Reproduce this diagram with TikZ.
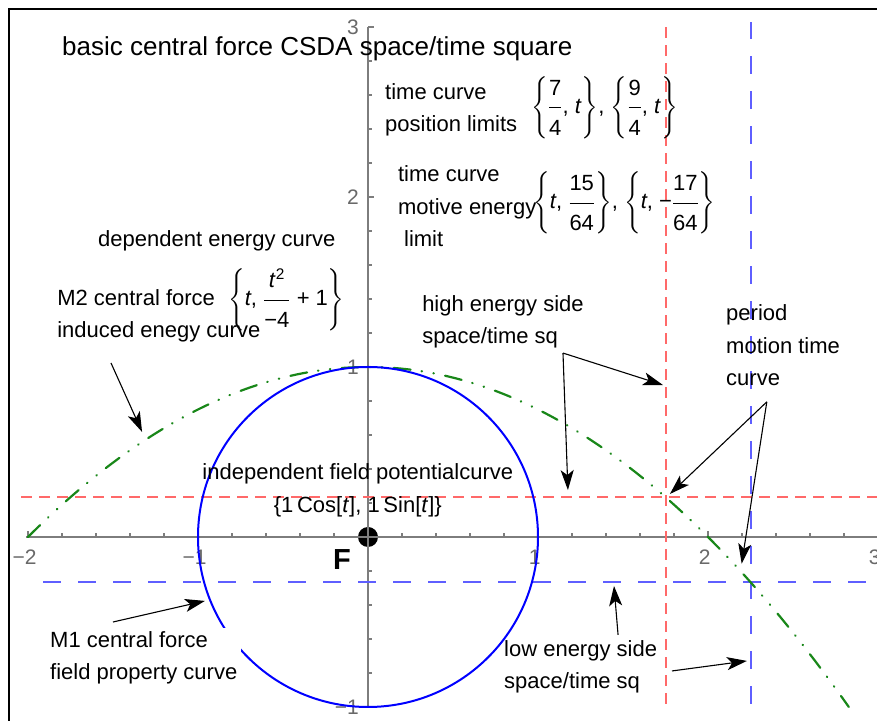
\documentclass[tikz,border=0pt]{standalone}
\usepackage{amsmath}
\usepackage{fontspec}
\setmainfont{Liberation Sans}
\usepackage{tikz}
\usetikzlibrary{positioning,arrows.meta}
\definecolor{circleblue}{RGB}{0,0,255}
\definecolor{energygreen}{RGB}{25,135,25}
\definecolor{highred}{RGB}{255,105,105}
\definecolor{lowblue}{RGB}{95,95,255}
\definecolor{axisgray}{RGB}{125,125,125}
\definecolor{tickgray}{RGB}{105,105,105}
\newcommand{\mfrac}[2]{\dfrac{\text{#1}\rule[-10pt]{0pt}{10pt}}{\rule{0pt}{24.5pt}\text{#2}}}
\tikzset{
  title-text/.style={font=\fontsize{26}{30}\selectfont, inner sep=0pt},
  note-text/.style={font=\fontsize{22}{32.5}\selectfont, align=left, inner sep=0pt},
  math-text/.style={font=\fontsize{22}{26}\selectfont, inner sep=0pt},
  tick-label/.style={font=\fontsize{21}{24}\selectfont, text=tickgray, inner sep=0pt},
  force-label/.style={font=\fontsize{29}{30}\selectfont\bfseries, inner sep=0pt},
  axis-line/.style={draw=axisgray, line width=1.2pt},
  field-curve/.style={draw=circleblue, line width=2pt},
  energy-curve/.style={draw=energygreen, line width=2.2pt, line cap=round,
    dash pattern=on 17pt off 11pt on 0.5pt off 11.5pt on 0.5pt off 11.5pt},
  high-limit/.style={draw=highred, line width=2pt, dash pattern=on 11pt off 7pt},
  low-limit/.style={draw=lowblue, line width=2pt, dash pattern=on 18pt off 17pt},
  note-arrow/.style={-{Stealth[length=20pt, width=13pt, inset=5pt]}, line width=1.1pt, draw=black}
}
\begin{document}
\begin{tikzpicture}[x=170pt, y=170pt]
\useasboundingbox (-2.1647,-1.0765) rectangle (2.9941,3.1588);
\draw[line width=2.5pt] (-2.112,-1.2) -- (-2.112,3.106) -- (3.1,3.106);

\node[circle, fill=black, minimum size=20pt, inner sep=0pt] (forceDot) at (0,0) {};
\draw[axis-line] (-2.01,0) -- (3.1,0);
\draw[axis-line] (0,-1) -- (0,3);
\foreach \k in {-10,...,15} \draw[axis-line] (\k/5,0) -- ++(0,3.5pt);
\foreach \k in {-2,...,3} \draw[axis-line] (\k,0) -- ++(0,6pt);
\foreach \k in {-5,...,15} \draw[axis-line] (0,\k/5) -- ++(3.5pt,0);
\foreach \k in {-1,...,3} \draw[axis-line] (0,\k) -- ++(6pt,0);
\foreach \k/\lab in {-2/−2,-1/−1,1/1,2/2,3/3}
  \node[tick-label, anchor=north] (xl\k) at (\k-0.02,-0.076) {\lab};
\foreach \k/\lab in {-1/−1,1/1,2/2,3/3}
  \node[tick-label, anchor=east] (yl\k) at (-0.053,\k) {\lab};

\draw[high-limit] (1.75,-0.98) -- (1.75,3.03);
\draw[high-limit] (-2.04,0.234) -- (3.0,0.234);
\draw[low-limit] (2.25,-0.98) -- (2.25,3.03);
\draw[low-limit] (-1.91,-0.266) -- (3.0,-0.266);
\draw[energy-curve] plot[domain=-2:2.83, samples=120] (\x,{1-\x*\x/4});
\draw[field-curve] (0,0) circle (1);

\node[title-text, anchor=base west] (title) at (-1.8,2.835) {basic central force CSDA space/time square};
\node[note-text, anchor=west] (posLimits) at (0.1,2.512) {time curve\\position limits};
\node[math-text, anchor=west] (posLimitsEq) at (0.959,2.524)
  {${\left\{\mfrac{7}{4}\text{, \textit{t}}\right\}}\text{, }{\left\{\mfrac{9}{4}\text{, \textit{t}}\right\}}$};
\node[note-text, anchor=west] (energyLimit) at (0.176,1.944) {time curve\\motive energy\\\hspace{6pt}limit};
\node[math-text, anchor=west] (energyLimitEq) at (0.971,1.965)
  {${\left\{\text{\textit{t}, }\mfrac{15}{64}\right\}}\text{, }{\left\{\text{\textit{t}, −}\mfrac{17}{64}\right\}}$};
\node[note-text, anchor=base west] (depCurve) at (-1.588,1.706) {dependent energy curve};
\node[note-text, anchor=west] (m2Label) at (-1.829,1.301) {M2 central force\\induced enegy curve};
\node[math-text, anchor=west] (m2Eq) at (-0.824,1.394)
  {$\left\{\text{\textit{t}, }\mfrac{\textit{t}\textsuperscript{2}}{−4}\text{ + 1}\right\}$};
\node[note-text, anchor=west] (highSide) at (0.318,1.266) {high energy side\\space/time sq};
\node[note-text, anchor=west] (period) at (2.106,1.126) {period\\motion time\\curve};
\node[note-text, align=center] (fieldCurve) at (-0.06,0.276)
  {independent field potentialcurve\\\{1\,Cos[\textit{t}], 1\,Sin[\textit{t}]\}};
\node[note-text, anchor=west, fill=white, inner sep=4pt] (m1Label) at (-1.894,-0.712) {M1 central force\\field property curve};
\node[note-text, anchor=west] (lowSide) at (0.8,-0.765) {low energy side\\space/time sq};
\node[force-label] (forceF) at (-0.153,-0.132) {F};

\coordinate (m2Tail) at (-1.512,1.024);
\coordinate (m2Tip) at (-1.329,0.618);
\coordinate (hiTail) at (1.147,1.082);
\coordinate (hiTipA) at (1.735,0.894);
\coordinate (hiTipB) at (1.176,0.276);
\coordinate (perTail) at (2.346,0.795);
\coordinate (perTipA) at (1.776,0.253);
\coordinate (perTipB) at (2.198,-0.157);
\coordinate (loTailA) at (1.471,-0.576);
\coordinate (loTipA) at (1.447,-0.288);
\coordinate (loTailB) at (1.788,-0.788);
\coordinate (loTipB) at (2.229,-0.729);
\coordinate (m1Tail) at (-1.5,-0.5);
\coordinate (m1Tip) at (-0.959,-0.376);
\draw[note-arrow] (m2Tail) -- (m2Tip);
\draw[note-arrow] (hiTail) -- (hiTipA);
\draw[note-arrow] (hiTail) -- (hiTipB);
\draw[note-arrow] (perTail) -- (perTipA);
\draw[note-arrow] (perTail) -- (perTipB);
\draw[note-arrow] (loTailA) -- (loTipA);
\draw[note-arrow] (loTailB) -- (loTipB);
\draw[note-arrow] (m1Tail) -- (m1Tip);
\end{tikzpicture}
\end{document}
